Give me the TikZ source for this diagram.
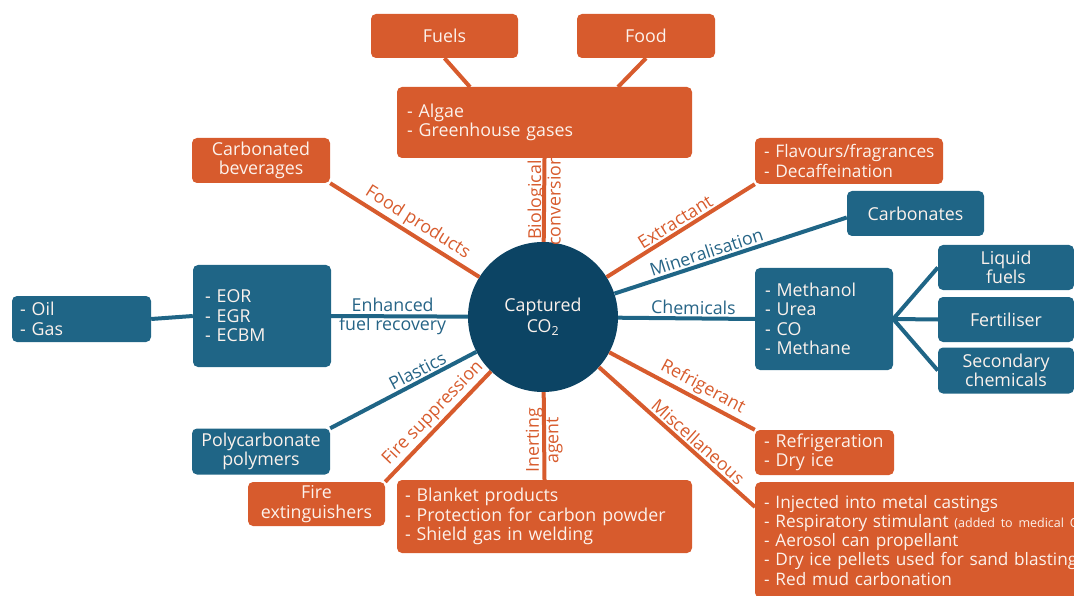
\documentclass[tikz,border=0pt]{standalone}
\usepackage{fontspec}
\setmainfont{Open Sans}
\definecolor{cOr}{RGB}{215,91,45}
\definecolor{cBl}{RGB}{31,101,134}
\definecolor{cNavy}{RGB}{12,68,100}
\definecolor{boxtext}{RGB}{252,242,236}
\definecolor{blab}{RGB}{38,100,134}
\newcommand{\mainsize}{\fontsize{17.8}{19.5}\selectfont}
\tikzset{
  base/.style={rectangle, rounded corners=5pt, text=boxtext, inner xsep=9pt, inner ysep=0pt,
               font=\mainsize},
  obox/.style={base, fill=cOr},
  bbox/.style={base, fill=cBl},
  sz/.style 2 args={minimum width=#1, minimum height=#2},
  lft/.style={align=left, text width=#1},
  ctr/.style={align=center},
  olink/.style={draw=cOr, line width=4pt},
  blink/.style={draw=cBl, line width=4pt},
  lab/.style={font=\mainsize, sloped, above, inner sep=2pt},
  olab/.style={lab, text=cOr},
  blabel/.style={lab, text=blab},
  pair/.style={font=\mainsize, align=center, inner sep=0pt},
}
\begin{document}
\begin{tikzpicture}[x=1pt,y=-1pt]
\useasboundingbox (0,0) rectangle (1074,596);
\clip (0,0) rectangle (1074,596);

% hub
\node[circle, fill=cNavy, minimum size=150pt, text=boxtext, align=center,
      font=\fontsize{17.8}{21}\selectfont] (co2) at (543,317) {Captured\\CO\textsubscript{2}};

% top branch
\node[obox, sz={147pt}{44pt}, ctr] (fuels) at (444.5,36) {Fuels};
\node[obox, sz={138pt}{44pt}, ctr] (food) at (646,36) {Food};
\node[obox, lft=275pt, inner xsep=10pt, minimum height=71pt] (algae) at (544.5,122.5) {- Algae\\- Greenhouse gases};
\coordinate (algaeL) at (470,87);
\coordinate (algaeR) at (618,87);

% upper left / upper right
\node[obox, sz={138pt}{45pt}, ctr] (carb) at (261,160.5) {Carbonated\\beverages};
\node[obox, lft=170pt, inner xsep=9pt, minimum height=46pt, font=\fontsize{17.3}{19.5}\selectfont]
  (ext) at (849,161) {\mbox{- Flavours/fragrances}\\\mbox{- Decaffeination}};
\node[bbox, sz={137pt}{45pt}, ctr] (carbs) at (915.5,213.5) {Carbonates};

% chemicals
\node[bbox, lft=118pt, inner xsep=10pt, minimum height=102pt] (meth) at (824,319) {- Methanol\\- Urea\\- CO\\- Methane};
\node[bbox, sz={136pt}{45pt}, ctr] (liq) at (1006,267.5) {Liquid\\fuels};
\node[bbox, sz={136pt}{45pt}, ctr] (fert) at (1006,319.5) {Fertiliser};
\node[bbox, sz={136pt}{46pt}, ctr] (sec) at (1006,370.5) {Secondary\\chemicals};

% enhanced fuel recovery
\node[bbox, lft=114pt, inner xsep=12pt, minimum height=102pt] (eor) at (262,316) {- EOR\\- EGR\\- ECBM};
\node[bbox, lft=123pt, inner xsep=8pt, minimum height=46pt] (oil) at (81.5,319) {- Oil\\- Gas};

% lower left
\node[bbox, sz={138pt}{46pt}, ctr] (poly) at (261,451.5) {Polycarbonate\\polymers};
\node[obox, sz={137pt}{44pt}, ctr] (fire) at (316.5,504) {Fire\\extinguishers};
\node[obox, lft=279pt, inner xsep=8pt, minimum height=73pt] (blanket) at (544.5,516.5)
  {- Blanket products\\- Protection for carbon powder\\- Shield gas in welding};

% lower right
\node[obox, lft=121pt, minimum height=45pt] (refrig) at (824.5,452.5) {- Refrigeration\\- Dry ice};
\node[obox, lft=482pt, minimum height=116pt, anchor=north west, font=\fontsize{17.2}{19.3}\selectfont]
  (misc) at (755,482)
  {- Injected into metal castings\\
   - Respiratory stimulant \mbox{\fontsize{12.5}{19.3}\selectfont(added to medical O\textsubscript{2})}\\
   - Aerosol can propellant\\
   - Dry ice pellets used for sand blasting\\
   - Red mud carbonation};
\coordinate (miscIn) at ([yshift=-25pt]misc.north west);

% connectors
\draw[olink] (fuels.south) -- (algaeL);
\draw[olink] (food.south) -- (algaeR);
\draw[olink] (co2) -- (algae.south)
  node[pair, midway, rotate=90, text=cOr] {Biological\\conversion};
\draw[olink] (co2) -- (carb.south east) node[olab, pos=0.46] {Food products};
\draw[olink] (co2) -- (ext.south west) node[olab, pos=0.5] {Extractant};
\draw[blink] (co2) -- ([yshift=-4pt]carbs.west) node[blabel, pos=0.41] {Mineralisation};
\draw[blink] (co2) -- (meth.west) node[blabel, pos=0.55] {Chemicals};
\draw[blink] (meth.east) -- (liq.west);
\draw[blink] (meth.east) -- (fert.west);
\draw[blink] (meth.east) -- (sec.west);
\draw[blink] (co2) -- (eor.east)
  node[pair, pos=0.55, text=blab] {Enhanced\\fuel recovery};
\draw[blink] (oil.east) -- (eor.west);
\draw[blink] (co2) -- (poly.north east) node[blabel, pos=0.37] {Plastics};
\draw[olink] (co2) -- (fire.north east) node[olab, pos=0.46] {Fire suppression};
\draw[olink] (co2) -- (blanket.north)
  node[pair, pos=0.55, rotate=90, text=cOr] {Inerting\\agent};
\draw[olink] (co2) -- (refrig.north west) node[olab, pos=0.6] {Refrigerant};
\draw[olink] (co2) -- (miscIn) node[olab, pos=0.59] {Miscellaneous};
\end{tikzpicture}
\end{document}
